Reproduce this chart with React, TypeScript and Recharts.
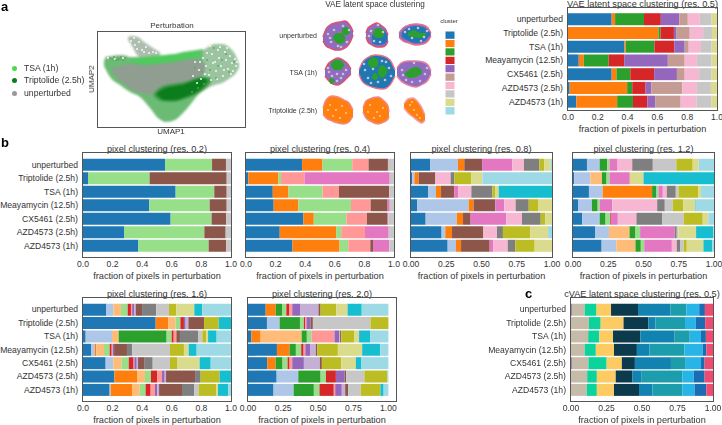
import React from "react";
import {
  Area,
  Bar,
  BarChart,
  ComposedChart,
  Scatter,
  ScatterChart,
  XAxis,
  YAxis,
} from "recharts";

const FONT = "'Liberation Sans', Arial, sans-serif";
const TEXT = "#333333";
const FRAME = "#555555";

const tab20 = [
  "#1f77b4", "#aec7e8", "#ff7f0e", "#ffbb78", "#2ca02c", "#98df8a", "#d62728",
  "#ff9896", "#9467bd", "#c5b0d5", "#8c564b", "#c49c94", "#e377c2", "#f7b6d2",
  "#7f7f7f", "#c7c7c7", "#bcbd22", "#dbdb8d", "#17becf", "#9edae5",
];
const cvaePalette = [
  "#9a86b8", "#c6bba8", "#0bd39c", "#fdcb62", "#0a3a4c",
  "#1283b0", "#1c9dab", "#27b4e6", "#1a6db3", "#ef4a70",
];

const categories = [
  "unperturbed", "Triptolide (2.5h)", "TSA (1h)", "Meayamycin (12.5h)",
  "CX5461 (2.5h)", "AZD4573 (2.5h)", "AZD4573 (1h)",
];

const ticksCoarse = [0, 0.2, 0.4, 0.6, 0.8, 1];
const ticksFine = [0, 0.25, 0.5, 0.75, 1];

// each row: [cluster id, right edge of that segment]
type Row = number[][];

const vaeRes05: Row[] = [
  [[0,.293],[2,.316],[4,.51],[6,.623],[8,.747],[11,.804],[13,.885],[15,.964],[17,1]],
  [[2,.607],[4,.621],[6,.711],[8,.729],[11,.817],[13,.907],[15,.966],[17,1]],
  [[0,.379],[2,.388],[4,.58],[6,.713],[8,.783],[11,.81],[13,.892],[15,.964],[17,1]],
  [[0,.072],[2,.106],[4,.273],[6,.377],[8,.67],[11,.783],[13,.865],[15,.964],[17,1]],
  [[0,.293],[2,.325],[4,.418],[6,.578],[8,.731],[11,.783],[13,.88],[15,.964],[17,1]],
  [[0,.011],[2,.397],[4,.431],[6,.521],[8,.56],[11,.767],[13,.865],[15,.959],[17,1]],
  [[0,.056],[2,.33],[4,.436],[6,.533],[8,.585],[11,.756],[13,.862],[15,.964],[17,1]],
];
const pixelRes02: Row[] = [
  [[0,.554],[5,.872],[10,.966],[15,1]],
  [[0,.034],[5,.45],[10,.971],[15,1]],
  [[0,.626],[5,.887],[10,.971],[15,1]],
  [[0,.448],[5,.856],[10,.971],[15,1]],
  [[0,.592],[5,.869],[10,.968],[15,1]],
  [[0,.277],[5,.82],[10,.964],[15,1]],
  [[0,.374],[5,.849],[10,.968],[15,1]],
];
const pixelRes04: Row[] = [
  [[0,.379],[2,.517],[5,.718],[7,.828],[10,.959],[15,1]],
  [[0,.016],[2,.219],[5,.237],[7,.395],[12,.971],[15,1]],
  [[0,.181],[2,.287],[5,.517],[7,.628],[10,.968],[15,1]],
  [[0,.187],[2,.354],[5,.709],[7,.842],[10,.957],[12,.971],[15,1]],
  [[0,.388],[2,.458],[5,.679],[7,.817],[10,.957],[12,.962],[15,1]],
  [[0,.228],[2,.609],[5,.643],[7,.804],[12,.964],[15,1]],
  [[0,.314],[2,.632],[5,.691],[7,.84],[10,.858],[12,.968],[15,1]],
];
const pixelRes08: Row[] = [
  [[0,.137],[1,.333],[2,.378],[10,.504],[12,.719],[13,.801],[14,.91],[16,.946],[17,.991],[19,1]],
  [[0,.009],[1,.024],[2,.054],[10,.173],[13,.281],[14,.307],[16,.426],[17,.506],[19,1]],
  [[0,.123],[1,.177],[2,.213],[10,.307],[12,.336],[13,.428],[14,.577],[16,.596],[17,.622],[18,1]],
  [[0,.045],[1,.409],[2,.444],[10,.598],[12,.662],[13,.742],[14,.835],[16,.901],[17,1]],
  [[0,.104],[1,.324],[2,.369],[10,.423],[12,.676],[13,.787],[14,.92],[16,.953],[17,1]],
  [[0,.217],[1,.243],[2,.291],[10,.513],[13,.61],[14,.652],[16,.846],[17,.972],[19,1]],
  [[0,.26],[1,.319],[2,.355],[10,.558],[12,.584],[13,.686],[14,.74],[16,.877],[17,1]],
];
const pixelRes12: Row[] = [
  [[0,.099],[1,.189],[4,.243],[5,.259],[12,.316],[13,.42],[14,.566],[15,.733],[16,.849],[17,.892],[19,1]],
  [[0,.009],[1,.123],[3,.205],[4,.238],[5,.259],[12,.403],[17,.5],[18,1]],
  [[0,.113],[1,.21],[2,.561],[4,.592],[5,.606],[12,.637],[13,.665],[14,.729],[15,.748],[16,.889],[17,.908],[19,1]],
  [[0,.038],[1,.134],[4,.175],[5,.189],[12,.278],[13,.597],[14,.651],[15,.708],[16,.783],[17,.866],[18,.87],[19,1]],
  [[0,.066],[1,.189],[4,.231],[5,.264],[6,.269],[12,.318],[13,.45],[14,.634],[15,.785],[16,.92],[17,.96],[19,1]],
  [[0,.156],[1,.255],[3,.401],[4,.443],[5,.476],[12,.722],[14,.736],[15,.748],[17,.873],[18,.995],[19,1]],
  [[0,.203],[1,.307],[3,.443],[4,.481],[5,.505],[12,.701],[13,.736],[14,.762],[15,.785],[16,.807],[17,.925],[18,.988],[19,1]],
];
const pixelRes16: Row[] = [
  [[0,.158],[1,.205],[3,.257],[5,.302],[6,.324],[7,.332],[8,.347],[9,.356],[10,.399],[14,.495],[15,.581],[16,.631],[17,.752],[18,.806],[19,1]],
  [[0,.491],[2,.577],[3,.626],[5,.658],[6,.682],[8,.694],[9,.712],[10,.818],[16,.917],[18,1]],
  [[0,.018],[1,.196],[3,.241],[4,.565],[5,.599],[6,.613],[7,.631],[10,.655],[14,.777],[15,.806],[16,.833],[17,.845],[18,.903],[19,1]],
  [[0,.054],[1,.079],[2,.09],[3,.142],[5,.18],[6,.194],[7,.201],[8,.21],[10,.297],[14,.333],[15,.588],[16,.682],[17,.714],[18,.768],[19,1]],
  [[0,.153],[1,.205],[3,.261],[5,.309],[6,.342],[7,.347],[8,.363],[9,.372],[10,.417],[14,.471],[15,.588],[16,.635],[17,.788],[18,.863],[19,1]],
  [[0,.212],[2,.365],[3,.419],[5,.459],[6,.502],[7,.534],[8,.552],[9,.561],[10,.757],[14,.795],[16,.923],[18,1]],
  [[0,.18],[1,.187],[2,.331],[3,.383],[5,.423],[6,.457],[7,.486],[8,.502],[9,.514],[10,.669],[14,.752],[15,.781],[16,.899],[17,.912],[18,.982],[19,1]],
];
const pixelRes20: Row[] = [
  [[0,.126],[2,.197],[4,.242],[5,.273],[6,.292],[7,.315],[8,.374],[9,.502],[10,.517],[16,.628],[17,.709],[18,.81],[19,1]],
  [[0,.135],[1,.225],[4,.37],[5,.398],[6,.408],[7,.416],[8,.445],[10,.462],[15,.872],[16,1]],
  [[0,.024],[2,.09],[3,.382],[4,.419],[5,.453],[7,.616],[8,.649],[9,.656],[10,.664],[16,.758],[17,.791],[18,.872],[19,1]],
  [[0,.206],[2,.296],[4,.341],[5,.379],[6,.396],[7,.408],[8,.445],[9,.483],[10,.493],[16,.64],[17,.813],[18,.941],[19,1]],
  [[0,.137],[2,.197],[4,.246],[5,.282],[6,.296],[7,.315],[8,.398],[9,.512],[10,.526],[16,.664],[17,.768],[18,.808],[19,1]],
  [[0,.204],[1,.358],[4,.517],[5,.555],[6,.626],[8,.688],[10,.699],[15,.829],[16,.993],[19,1]],
  [[0,.182],[1,.325],[4,.469],[5,.509],[6,.611],[7,.621],[8,.668],[9,.692],[10,.713],[15,.803],[16,.943],[18,.966],[19,1]],
];
const cvaeRes05: Row[] = [
  [[0,.007],[1,.097],[2,.18],[3,.282],[4,.472],[5,.699],[6,.813],[7,.903],[8,.943],[9,1]],
  [[1,.126],[2,.209],[3,.37],[4,.545],[5,.595],[6,.803],[7,.879],[8,.945],[9,1]],
  [[1,.121],[2,.199],[3,.296],[4,.488],[5,.73],[6,.836],[7,.915],[8,.95],[9,1]],
  [[1,.097],[2,.175],[3,.303],[4,.464],[5,.552],[6,.799],[7,.927],[8,.953],[9,1]],
  [[0,.007],[1,.123],[2,.251],[3,.358],[4,.45],[5,.704],[6,.808],[7,.915],[8,.941],[9,1]],
  [[1,.114],[2,.182],[3,.315],[4,.431],[5,.498],[6,.784],[7,.865],[8,.941],[9,1]],
  [[1,.111],[2,.182],[3,.303],[4,.479],[5,.573],[6,.784],[7,.87],[8,.953],[9,1]],
];

const clusterLegend = [0, 2, 4, 6, 8, 11, 13, 15, 17, 19];

// UMAP regions: [x, top, bottom] in the units of the embedding panel
type Blob = number[][];
const umapRegions: { id: string; color: string; points: Blob }[] = [
  { id: "rightLobe", color: "#9cc4a0", points: [[190,55,100],[200,52,93],[208,47,88],[215,44,85],[222,44,83],[230,48,78],[236,56,73],[239,64,68]] },
  { id: "topLobe", color: "#aebdaf", points: [[128,37,40],[132,36,46],[138,37,56],[144,42,58],[150,46,58],[156,50,57],[160,52,56]] },
  { id: "leftStrip", color: "#8fb292", points: [[105,57,60],[112,56,62],[120,55,63],[128,56,62]] },
  { id: "body", color: "#6bbb74", points: [[104,60,66],[110,58,77],[120,57,85],[130,57,92],[140,57,97],[150,57,108],[158,56,118],[166,55,122],[175,54,120],[183,52,113],[190,51,105],[197,50,96],[203,49,90]] },
  { id: "grayBand", color: "#8f9e90", points: [[112,68,72],[125,65,85],[140,63,93],[155,62,95],[170,60,92],[185,58,88],[197,60,80],[205,63,72]] },
  { id: "brightStripe", color: "#4fca5c", points: [[130,60,62],[145,57,65],[165,55,63],[185,53,60],[200,50,56]] },
  { id: "darkHalo", color: "#3c9a46", points: [[154,93,96],[161,87,101],[172,84,102],[185,82,99],[197,78,94],[207,77,87],[211,79,82]] },
  { id: "darkCore", color: "#0c7d1c", points: [[157,93,95],[165,88,100],[175,86,100],[185,84,97],[195,80,93],[203,78,87],[207,80,82]] },
];
const umapSpecksWhite = [
  [195,62],[199,70],[203,58],[206,66],[209,75],[212,54],[213,63],[216,71],[218,50],[219,58],[221,66],[223,76],[225,52],[226,60],[228,69],[230,56],[232,63],[233,71],[235,59],[236,66],
  [193,76],[197,83],[201,79],[205,74],[211,80],[215,62],[220,47],[224,70],[227,48],[231,74],[237,62],[207,53],[200,62],[210,46],[217,79],
  [131,41],[135,45],[139,42],[142,50],[146,47],[149,53],[134,38],[153,52],[130,44],[137,49],[144,52],[156,53],
  [108,58],[115,59],[123,58],
];
const umapSpecksDark = [
  [110,58],[114,57],[118,58],[121,57],[123,60],[125,58],[118,60],[112,59],[116,60],[120,59],
  [192,92],[198,88],[204,84],[210,70],[216,78],[222,60],[229,72],[234,62],[214,48],[207,60],[202,72],[195,68],[218,66],[226,54],
];

// nuclei in the latent space panel: outer body, inner regions, [x, top, bottom]
const nucleusBodies: { id: string; color: string; edge: string; points: Blob }[] = [
  { id: "n1", color: "#8f6cc0", edge: "#e0506a", points: [[323,37,41],[326,29,46],[330,25,48],[335,23,50],[340,22,50],[345,21,48],[349,24,44],[352,29,38],[353,32,35]] },
  { id: "n2", color: "#8f6cc0", edge: "#e0506a", points: [[366,33,37],[368,28,42],[372,25,45],[377,23,47],[382,26,47],[386,30,45],[388,35,41]] },
  { id: "n3", color: "#8f6cc0", edge: "#e8708a", points: [[399,33,37],[403,28,41],[409,25,43],[416,24,45],[423,25,44],[428,28,41],[431,33,36]] },
  { id: "n4", color: "#8f6cc0", edge: "#e0506a", points: [[325,70,76],[328,64,80],[333,60,84],[338,58,85],[343,60,82],[347,63,78],[351,69,74]] },
  { id: "n5", color: "#1f77b4", edge: "#ec6f8c", points: [[359,70,74],[362,63,81],[367,58,85],[375,55,88],[383,56,89],[390,60,85],[395,70,76]] },
  { id: "n6", color: "#8f6cc0", edge: "#ec7f9c", points: [[397,68,76],[401,63,81],[408,61,85],[416,61,87],[423,62,84],[428,65,80],[431,71,74]] },
  { id: "n7", color: "#ff7f0e", edge: "#f08a8a", points: [[323,108,114],[326,100,118],[332,96,121],[338,97,123],[344,100,124],[349,103,122],[353,110,116]] },
  { id: "n8", color: "#ff7f0e", edge: "#f08a8a", points: [[363,108,112],[366,101,118],[372,98,122],[378,97,124],[384,101,122],[388,106,119],[389,112,116]] },
  { id: "n9", color: "#ff7f0e", edge: "#f4a0b0", points: [[404,104,108],[408,99,113],[413,98,117],[418,102,121],[422,108,123],[425,115,120]] },
];
const nucleusInner: { id: string; color: string; points: Blob }[] = [
  { id: "n2b", color: "#1f77b4", points: [[372,35,43],[378,30,45],[384,30,44],[387,35,41]] },
  { id: "n3b", color: "#1f77b4", points: [[402,32,37],[409,27,41],[416,26,43],[423,27,42],[430,33,35]] },
  { id: "g1a", color: "#2ca02c", points: [[342,29,33],[346,27,35],[350,29,33]] },
  { id: "g1b", color: "#2ca02c", points: [[333,37,39],[337,33,43],[341,33,44],[345,36,41]] },
  { id: "g2", color: "#2ca02c", points: [[373,32,35],[377,28,38],[381,28,38],[384,33,35]] },
  { id: "g3", color: "#2ca02c", points: [[408,33,36],[414,30,37],[420,33,38],[426,33,35]] },
  { id: "g4a", color: "#2ca02c", points: [[331,64,66],[335,60,70],[340,60,70],[344,64,66]] },
  { id: "g4b", color: "#2ca02c", points: [[329,80,81],[331,78,84],[335,80,81]] },
  { id: "g5a", color: "#2ca02c", points: [[368,62,64],[372,57,68],[378,59,66]] },
  { id: "g5b", color: "#2ca02c", points: [[378,70,74],[382,65,78],[387,68,73]] },
  { id: "g5c", color: "#2ca02c", points: [[372,76,78],[375,73,80],[378,76,78]] },
  { id: "g6", color: "#2ca02c", points: [[405,73,75],[410,69,78],[416,67,77],[422,70,73]] },
];
const grainGray = [
  [328,34],[331,42],[334,30],[338,46],[343,26],[347,42],[349,30],[330,38],[341,47],
  [371,31],[374,41],[380,42],[383,32],[378,25],[369,36],
  [405,32],[412,38],[418,28],[424,37],[427,31],[409,29],[421,41],
  [329,72],[332,76],[337,74],[341,78],[346,70],[343,74],[337,81],[328,68],
  [365,70],[368,78],[373,69],[378,82],[385,80],[389,68],[364,64],[382,61],[391,76],[371,83],[386,62],
  [402,70],[406,80],[412,82],[420,81],[425,74],[427,68],[414,63],[403,75],
];
const grainPale = [
  [330,105],[336,110],[342,106],[346,113],[333,116],[340,118],[328,110],
  [370,105],[377,112],[383,108],[374,118],[380,116],[368,112],
  [410,105],[414,110],[417,115],[412,102],[420,118],
];

const panels = {
  vae: { x: 568, y: 8, w: 149, h: 102, pad: [4.2, 1.6] },
  res02: { x: 83, y: 153, w: 148, h: 104 },
  res04: { x: 246, y: 153, w: 148, h: 104 },
  res08: { x: 411, y: 153, w: 141, h: 104 },
  res12: { x: 573, y: 153, w: 141, h: 104 },
  res16: { x: 83, y: 298, w: 148, h: 103 },
  res20: { x: 248, y: 298, w: 148, h: 103 },
  cvae: { x: 571, y: 298, w: 142, h: 103 },
};

const LABEL_W = 83;
const AXIS_H = 26;
const XLABEL = "fraction of pixels in perturbation";

function toTable(rows: Row[]) {
  return rows.map((row, i) => {
    const out: Record<string, number | string> = { name: categories[i] };
    let prev = 0;
    for (const [id, edge] of row) {
      out[`c${id}`] = edge - prev;
      prev = edge;
    }
    return out;
  });
}

function CategoryTick({ x, y, payload }: any) {
  return (
    <text x={x} y={y} dy={3} textAnchor="end" fill={TEXT} fontSize={8.6}>
      {payload.value}
    </text>
  );
}

function StackedPanel({ title, rows, box, palette = tab20, ticks, digits = 1, domainMax = 1, showLabels = true }: any) {
  const ids: number[] = Array.from(new Set<number>(rows.flat().map((p: number[]) => p[0]))).sort((a, b) => a - b);
  // unlabelled panels still need a little room left of the plot for the first tick label
  const leftRoom = showLabels ? LABEL_W : 12;
  const pad = box.pad ?? [4.75, 4.75];
  return (
    <>
      <div style={{ position: "absolute", left: box.x - 30, width: box.w + 60, top: box.y - 8.5, textAlign: "center", fontSize: 9.2, lineHeight: "9px", color: TEXT, whiteSpace: "nowrap" }}>
        {title}
      </div>
      <div style={{ position: "absolute", left: box.x - leftRoom, top: box.y }}>
        <BarChart
          width={box.w + leftRoom + 14}
          height={box.h + AXIS_H}
          layout="vertical"
          data={toTable(rows)}
          margin={{ top: 0, right: 14, bottom: 0, left: showLabels ? 0 : leftRoom }}
        >
          <XAxis
            type="number"
            domain={[0, domainMax]}
            ticks={ticks}
            tickFormatter={(v: number) => v.toFixed(digits)}
            tick={{ fill: TEXT, fontSize: 8.6 }}
            tickLine={false}
            tickSize={0}
            tickMargin={4}
            axisLine={false}
            allowDataOverflow
            height={AXIS_H}
            interval={0}
            label={{ value: XLABEL, position: "insideBottom", offset: 4, fill: TEXT, fontSize: 9.2 }}
          />
          <YAxis
            type="category"
            dataKey="name"
            hide={!showLabels}
            width={LABEL_W}
            tick={<CategoryTick />}
            tickLine={false}
            tickSize={0}
            tickMargin={5}
            axisLine={false}
            interval={0}
            padding={{ top: pad[0], bottom: pad[1] }}
          />
          {ids.map((id) => (
            <Bar key={id} dataKey={`c${id}`} stackId="s" fill={palette[id]} barSize={12} isAnimationActive={false} />
          ))}
        </BarChart>
      </div>
      <div style={{ position: "absolute", left: box.x - 1, top: box.y - 1, width: box.w + 2, height: box.h + 2, border: `1.5px solid ${FRAME}`, boxSizing: "border-box" }} />
    </>
  );
}

function regionTable(regions: { id: string; points: Blob }[]) {
  const byX = new Map<number, Record<string, any>>();
  for (const r of regions) {
    for (const [x, top, bottom] of r.points) {
      if (!byX.has(x)) byX.set(x, { x });
      byX.get(x)![r.id] = [top, bottom];
    }
  }
  return Array.from(byX.values()).sort((a, b) => a.x - b.x);
}

function RegionLayer({ left, top, width, height, regions, blur }: any) {
  return (
    <div style={{ position: "absolute", left, top, filter: `blur(${blur}px)` }}>
      <ComposedChart width={width} height={height} data={regionTable(regions)} margin={{ top: 0, right: 0, bottom: 0, left: 0 }}>
        <XAxis type="number" dataKey="x" domain={[left, left + width]} hide />
        <YAxis type="number" domain={[top, top + height]} reversed hide />
        {regions.map((r: any) => (
          <Area
            key={r.id}
            dataKey={r.id}
            type="monotone"
            connectNulls
            fill={r.color}
            fillOpacity={1}
            stroke={r.edge ?? "none"}
            strokeWidth={1.4}
            dot={false}
            activeDot={false}
            isAnimationActive={false}
          />
        ))}
      </ComposedChart>
    </div>
  );
}

function SpeckLayer({ left, top, width, height, points, color, radius }: any) {
  return (
    <div style={{ position: "absolute", left, top, filter: "blur(0.3px)" }}>
      <ScatterChart width={width} height={height} margin={{ top: 0, right: 0, bottom: 0, left: 0 }}>
        <XAxis type="number" dataKey="x" domain={[left, left + width]} hide />
        <YAxis type="number" dataKey="y" domain={[top, top + height]} reversed hide />
        <Scatter
          data={points.map(([x, y]: number[]) => ({ x, y }))}
          shape={(p: any) => <circle cx={p.cx} cy={p.cy} r={radius} fill={color} />}
          isAnimationActive={false}
        />
      </ScatterChart>
    </div>
  );
}

function Text({ x, y, size = 10, color = TEXT, anchor = "left", bold, children, rotate }: any) {
  const shift = anchor === "center" ? "-50%" : anchor === "right" ? "-100%" : "0";
  return (
    <div
      style={{
        position: "absolute",
        left: x,
        top: y,
        fontSize: size,
        lineHeight: 1,
        color,
        fontWeight: bold ? 700 : 400,
        whiteSpace: "nowrap",
        willChange: "transform",
        transform: `translate(${shift}, -50%)${rotate ? ` rotate(${rotate}deg)` : ""}`,
      }}
    >
      {children}
    </div>
  );
}

function ClusterLegend() {
  const row: Record<string, number> = {};
  clusterLegend.forEach((id) => { row[`c${id}`] = 1; });
  return (
    <div style={{ position: "absolute", left: 445, top: 31 }}>
      <BarChart width={10} height={84} data={[row]} margin={{ top: 0, right: 0, bottom: 0, left: 0 }} barCategoryGap={0}>
        <XAxis hide />
        <YAxis type="number" domain={[0, 10]} reversed hide />
        {clusterLegend.map((id) => (
          <Bar key={id} dataKey={`c${id}`} stackId="k" fill={tab20[id]} stroke="#ffffff" strokeWidth={1} isAnimationActive={false} />
        ))}
      </BarChart>
    </div>
  );
}

export default function App() {
  return (
    <div style={{ position: "absolute", left: 0, top: 0, width: 722, height: 425, overflow: "hidden", background: "#fff", fontFamily: FONT }}>
      <Text x={1} y={6} size={13} bold color="#000">a</Text>
      <Text x={1} y={142} size={13} bold color="#000">b</Text>
      <Text x={525} y={293} size={13} bold color="#000">c</Text>

      {/* UMAP panel */}
      <RegionLayer left={98} top={32} width={147} height={95} regions={umapRegions} blur={0.8} />
      <SpeckLayer left={98} top={32} width={147} height={95} points={umapSpecksWhite} color="#f4f8f4" radius={1} />
      <SpeckLayer left={98} top={32} width={147} height={95} points={umapSpecksDark} color="#5aa862" radius={0.9} />
      <div style={{ position: "absolute", left: 97, top: 31, width: 149, height: 97, border: `1.5px solid ${FRAME}`, boxSizing: "border-box" }} />
      <Text x={172} y={26} size={8} anchor="center">Perturbation</Text>
      <Text x={171} y={131.5} size={8} anchor="center">UMAP1</Text>
      <Text x={92} y={79} size={8} anchor="center" rotate={-90}>UMAP2</Text>
      {[["TSA (1h)", "#3fe03f", 68], ["Triptolide (2.5h)", "#0c7d1c", 80], ["unperturbed", "#999999", 93]].map(([label, color, y]) => (
        <React.Fragment key={label as string}>
          <div style={{ position: "absolute", left: 12, top: (y as number) - 2.5, width: 5, height: 5, borderRadius: "50%", background: color as string }} />
          <Text x={24} y={y} size={8.7}>{label}</Text>
        </React.Fragment>
      ))}

      {/* latent space nuclei */}
      <Text x={375} y={5} size={8.2} anchor="center">VAE latent space clustering</Text>
      <Text x={317} y={35} size={7} anchor="right">unperturbed</Text>
      <Text x={317} y={72} size={7} anchor="right">TSA (1h)</Text>
      <Text x={317} y={110} size={7} anchor="right">Triptolide (2.5h)</Text>
      <RegionLayer left={320} top={18} width={115} height={110} regions={[...nucleusBodies, ...nucleusInner]} blur={0.4} />
      <SpeckLayer left={320} top={18} width={115} height={110} points={grainGray} color="#c9c2cc" radius={1.3} />
      <SpeckLayer left={320} top={18} width={115} height={110} points={grainPale} color="#fbcf9f" radius={0.9} />
      <Text x={449} y={21} size={6} anchor="center">cluster</Text>
      <ClusterLegend />

      <StackedPanel title="VAE latent space clustering (res. 0.5)" rows={vaeRes05} box={panels.vae} ticks={ticksCoarse} />
      <StackedPanel title="pixel clustering (res. 0.2)" rows={pixelRes02} box={panels.res02} ticks={ticksCoarse} />
      <StackedPanel title="pixel clustering (res. 0.4)" rows={pixelRes04} box={panels.res04} ticks={ticksCoarse} showLabels={false} />
      <StackedPanel title="pixel clustering (res. 0.8)" rows={pixelRes08} box={panels.res08} ticks={ticksFine} digits={2} showLabels={false} />
      <StackedPanel title="pixel clustering (res. 1.2)" rows={pixelRes12} box={panels.res12} ticks={ticksFine} digits={2} showLabels={false} />
      <StackedPanel title="pixel clustering (res. 1.6)" rows={pixelRes16} box={panels.res16} ticks={ticksCoarse} />
      <StackedPanel title="pixel clustering (res. 2.0)" rows={pixelRes20} box={panels.res20} ticks={ticksFine} digits={2} domainMax={1.054} showLabels={false} />
      <StackedPanel title="cVAE latent space clustering (res. 0.5)" rows={cvaeRes05} box={panels.cvae} palette={cvaePalette} ticks={ticksFine} digits={2} />
    </div>
  );
}
